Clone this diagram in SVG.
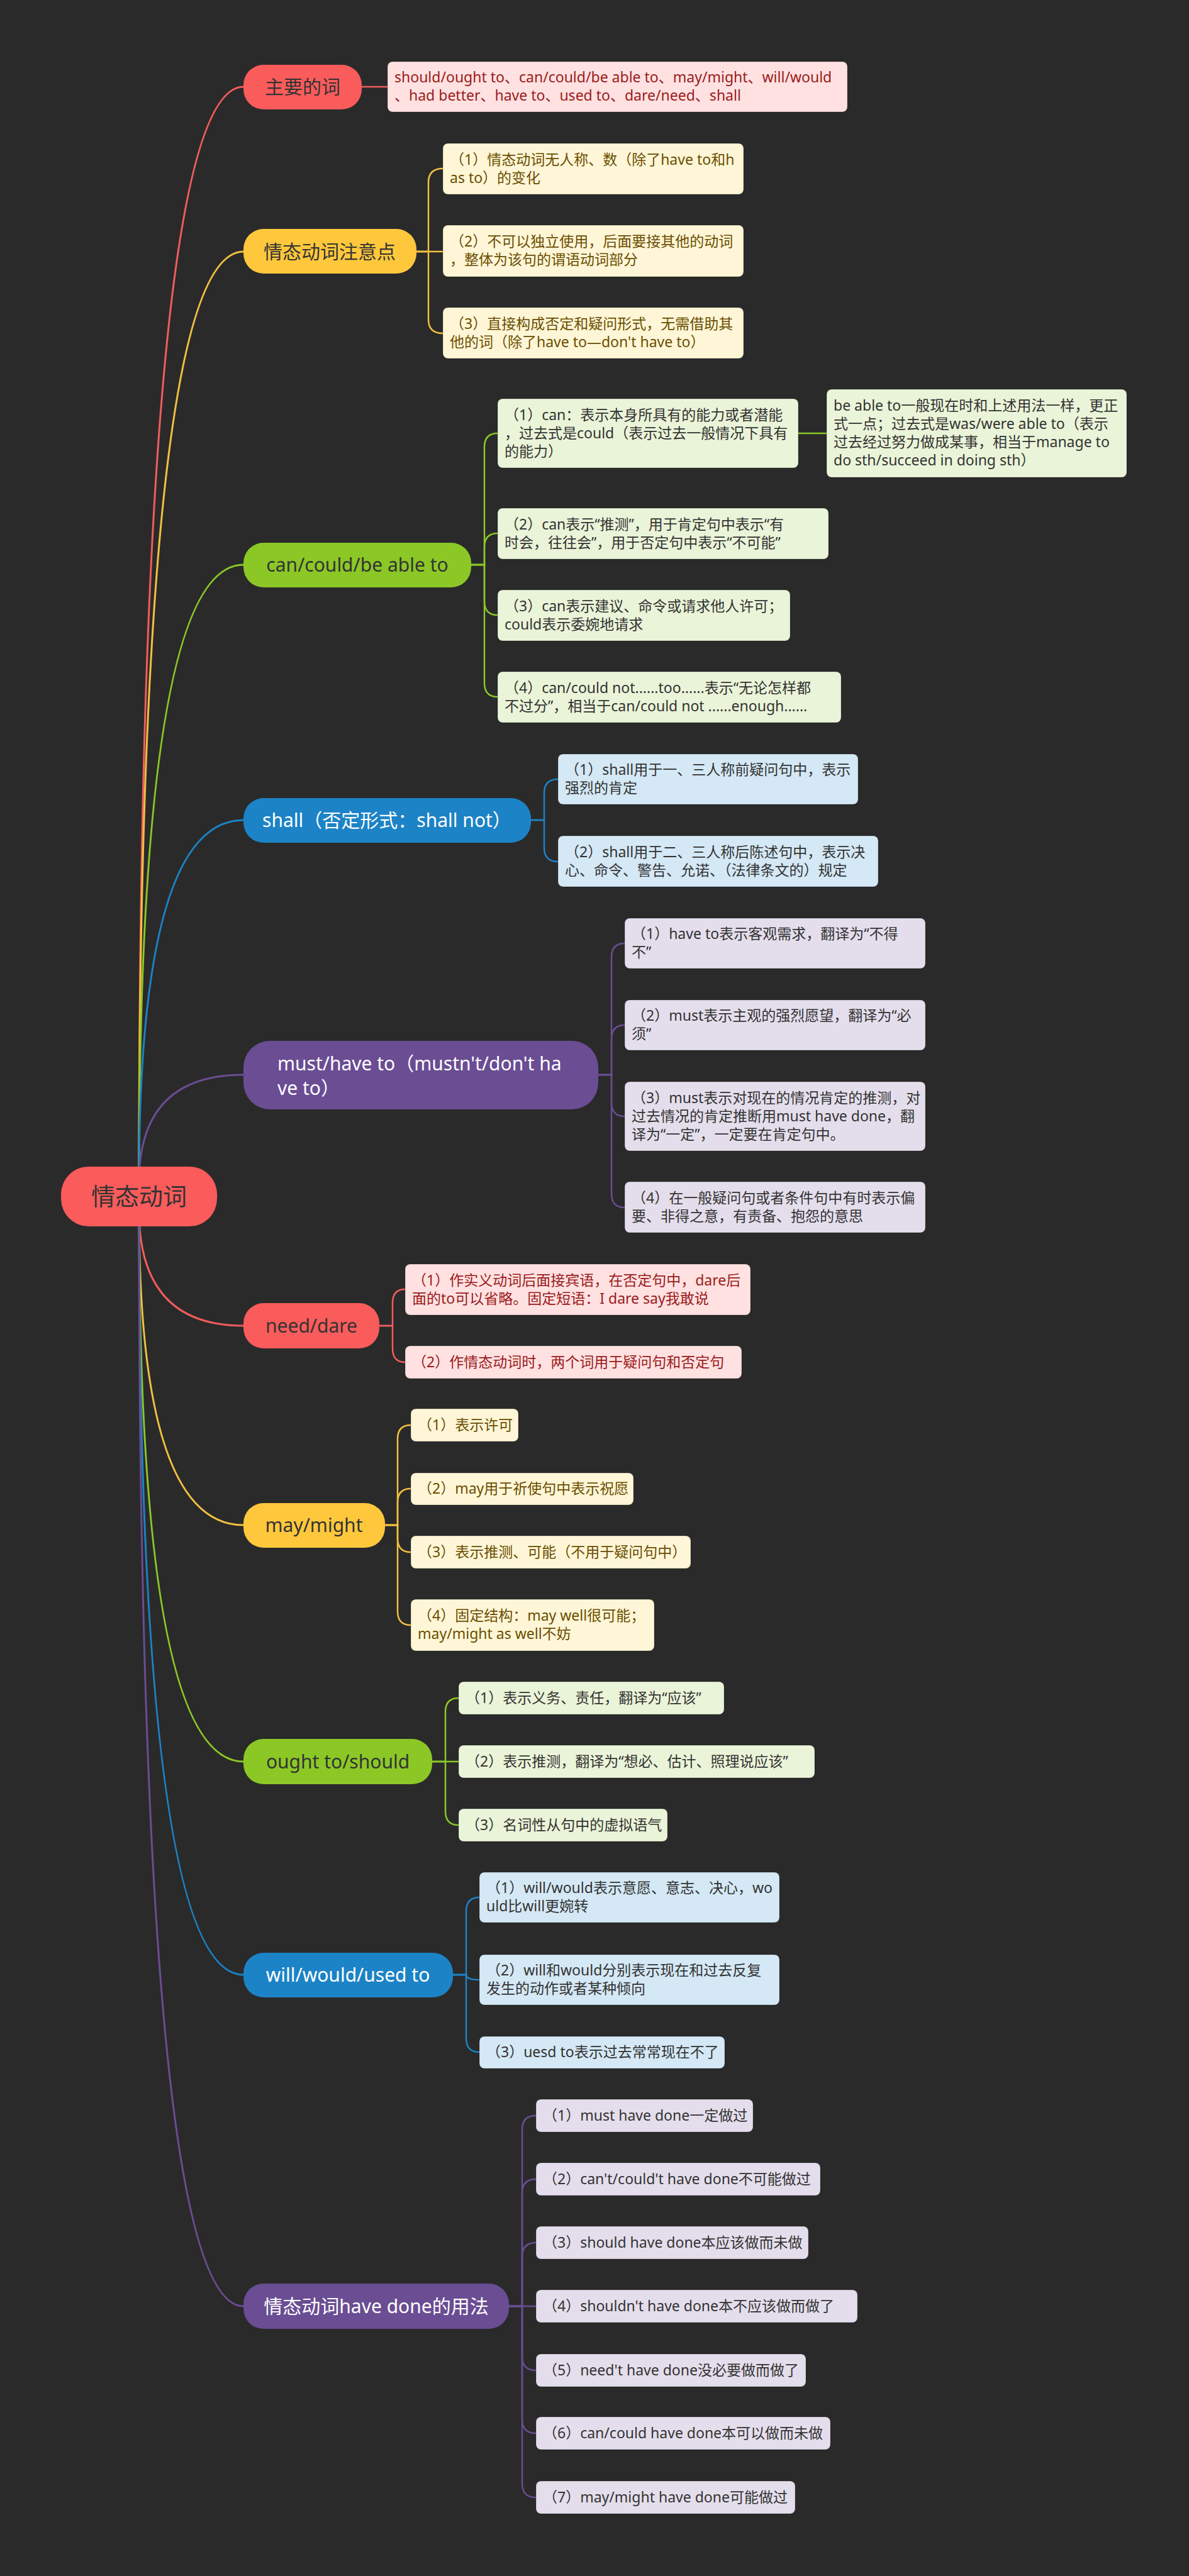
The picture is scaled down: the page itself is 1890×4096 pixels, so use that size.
<svg xmlns="http://www.w3.org/2000/svg" width="1890" height="4096" viewBox="0 0 1890 4096">
<style>
text{font-family:"Noto Sans","Noto Sans CJK SC",sans-serif}
.lt{font-size:23px}
.nt{font-size:30px}
.c{fill:none;stroke-width:3;stroke-linecap:round}
.cl{fill:none;stroke-width:2.5}
.red .n{fill:#FA5B5B}.red .lf{fill:#FFE1E1}.red .lt{fill:#9B1B1B}.red .nt{fill:#333}
.yel .n{fill:#FFC83C}.yel .lf{fill:#FEF6D7}.yel .lt{fill:#6B4E00}.yel .nt{fill:#333}
.grn .n{fill:#8BC826}.grn .lf{fill:#EAF4D8}.grn .lt{fill:#333}.grn .nt{fill:#333}
.blu .n{fill:#1C83C6}.blu .lf{fill:#D4E8F5}.blu .lt{fill:#333}.blu .nt{fill:#fff}
.pur .n{fill:#6A4D93}.pur .lf{fill:#E4DEEC}.pur .lt{fill:#333}.pur .nt{fill:#fff}
.lf{stroke:rgba(0,0,0,0.25);stroke-width:1}
.sr{stroke:#F25C5C}.sy{stroke:#F2C040}.sg{stroke:#8BC826}.sb{stroke:#1C83C6}.sp{stroke:#6A4D93}
</style>
<rect x="0" y="0" width="1890" height="4096" fill="#2A2A2A"/>
<g id="connectors">
<path class="c sr" d="M221 1880 Q221 138 387 138"/>
<path class="c sy" d="M221 1880 Q221 400 387 400"/>
<path class="c sg" d="M221 1880 Q221 898 387 898"/>
<path class="c sb" d="M221 1880 Q221 1304 387 1304"/>
<path class="c sp" d="M221 1880 Q221 1709 387 1709"/>
<path class="c sr" d="M221 1925 Q221 2108 387 2108"/>
<path class="c sy" d="M221 1925 Q221 2425 387 2425"/>
<path class="c sg" d="M221 1925 Q221 2801 387 2801"/>
<path class="c sb" d="M221 1925 Q221 3140 387 3140"/>
<path class="c sp" d="M221 1925 Q221 3667 387 3667"/>
<path class="cl sr" d="M575 138 H616"/>
<path class="cl sy" d="M662 400 H681 V290 Q681 268 704 268"/>
<path class="cl sy" d="M662 400 H704"/>
<path class="cl sy" d="M662 400 H681 V508 Q681 530 704 530"/>
<path class="cl sg" d="M749 898 H770 V711 Q770 689 791 689"/>
<path class="cl sg" d="M749 898 H770 V870 Q770 848 791 848"/>
<path class="cl sg" d="M749 898 H770 V956 Q770 978 791 978"/>
<path class="cl sg" d="M749 898 H770 V1086 Q770 1108 791 1108"/>
<path class="cl sg" d="M1269 689 H1314"/>
<path class="cl sb" d="M844 1304 H865 V1261 Q865 1239 887 1239"/>
<path class="cl sb" d="M844 1304 H865 V1348 Q865 1370 887 1370"/>
<path class="cl sp" d="M951 1709 H972 V1522 Q972 1500 993 1500"/>
<path class="cl sp" d="M951 1709 H972 V1652 Q972 1630 993 1630"/>
<path class="cl sp" d="M951 1709 H972 V1753 Q972 1775 993 1775"/>
<path class="cl sp" d="M951 1709 H972 V1898 Q972 1920 993 1920"/>
<path class="cl sr" d="M603 2108 H624 V2072 Q624 2050 644 2050"/>
<path class="cl sr" d="M603 2108 H624 V2144 Q624 2166 644 2166"/>
<path class="cl sy" d="M612 2425 H632 V2288 Q632 2266 653 2266"/>
<path class="cl sy" d="M612 2425 H632 V2389 Q632 2367 653 2367"/>
<path class="cl sy" d="M612 2425 H632 V2446 Q632 2468 653 2468"/>
<path class="cl sy" d="M612 2425 H632 V2562 Q632 2584 653 2584"/>
<path class="cl sg" d="M687 2801 H708 V2722 Q708 2700 729 2700"/>
<path class="cl sg" d="M687 2801 H729"/>
<path class="cl sg" d="M687 2801 H708 V2880 Q708 2902 729 2902"/>
<path class="cl sb" d="M720 3140 H741 V3039 Q741 3017 762 3017"/>
<path class="cl sb" d="M720 3140 H741 Q741 3148 762 3148"/>
<path class="cl sb" d="M720 3140 H741 V3241 Q741 3263 762 3263"/>
<path class="cl sp" d="M809 3667 H830 V3386 Q830 3364 852 3364"/>
<path class="cl sp" d="M809 3667 H830 V3487 Q830 3465 852 3465"/>
<path class="cl sp" d="M809 3667 H830 V3588 Q830 3566 852 3566"/>
<path class="cl sp" d="M809 3667 H852"/>
<path class="cl sp" d="M809 3667 H830 V3747 Q830 3769 852 3769"/>
<path class="cl sp" d="M809 3667 H830 V3847 Q830 3869 852 3869"/>
<path class="cl sp" d="M809 3667 H830 V3949 Q830 3971 852 3971"/>
</g>
<g id="root" class="red">
<rect class="n" x="97" y="1855" width="248" height="95" rx="44"/>
<text x="221" y="1916" text-anchor="middle" style="font-size:38px;fill:#333">情态动词</text>
</g>
<g id="b1" class="red">
<rect class="n" x="387" y="103" width="188" height="71" rx="32"/>
<text class="nt" x="481" y="149" text-anchor="middle">主要的词</text>
<rect class="lf" x="616" y="98" width="731" height="80" rx="8"/>
<text class="lt" x="627" y="131">should/ought to、can/could/be able to、may/might、will/would</text>
<text class="lt" x="627" y="160">、had better、have to、used to、dare/need、shall</text>
</g>
<g id="b2" class="yel">
<rect class="n" x="387" y="364" width="275" height="71" rx="32"/>
<text class="nt" x="524" y="411" text-anchor="middle">情态动词注意点</text>
<rect class="lf" x="704" y="228" width="478" height="81" rx="8"/>
<text class="lt" x="715" y="262">（1）情态动词无人称、数（除了have to和h</text>
<text class="lt" x="715" y="291">as to）的变化</text>
<rect class="lf" x="704" y="358" width="478" height="82" rx="8"/>
<text class="lt" x="715" y="392">（2）不可以独立使用，后面要接其他的动词</text>
<text class="lt" x="715" y="421">，整体为该句的谓语动词部分</text>
<rect class="lf" x="704" y="489" width="478" height="81" rx="8"/>
<text class="lt" x="715" y="523">（3）直接构成否定和疑问形式，无需借助其</text>
<text class="lt" x="715" y="552">他的词（除了have to—don't have to）</text>
</g>
<g id="b3" class="grn">
<rect class="n" x="387" y="863" width="362" height="71" rx="32"/>
<text class="nt" x="568" y="909" text-anchor="middle">can/could/be able to</text>
<rect class="lf" x="791" y="634" width="478" height="110" rx="8"/>
<text class="lt" x="802" y="668">（1）can：表示本身所具有的能力或者潜能</text>
<text class="lt" x="802" y="697">，过去式是could（表示过去一般情况下具有</text>
<text class="lt" x="802" y="726">的能力）</text>
<rect class="lf" x="1314" y="619" width="477" height="140" rx="8"/>
<text class="lt" x="1325" y="653">be able to一般现在时和上述用法一样，更正</text>
<text class="lt" x="1325" y="682">式一点；过去式是was/were able to（表示</text>
<text class="lt" x="1325" y="711">过去经过努力做成某事，相当于manage to</text>
<text class="lt" x="1325" y="740">do sth/succeed in doing sth）</text>
<rect class="lf" x="791" y="808" width="526" height="81" rx="8"/>
<text class="lt" x="802" y="842">（2）can表示“推测”，用于肯定句中表示“有</text>
<text class="lt" x="802" y="871">时会，往往会”，用于否定句中表示“不可能”</text>
<rect class="lf" x="791" y="938" width="465" height="81" rx="8"/>
<text class="lt" x="802" y="972">（3）can表示建议、命令或请求他人许可；</text>
<text class="lt" x="802" y="1001">could表示委婉地请求</text>
<rect class="lf" x="791" y="1068" width="546" height="81" rx="8"/>
<text class="lt" x="802" y="1102">（4）can/could not......too......表示“无论怎样都</text>
<text class="lt" x="802" y="1131">不过分”，相当于can/could not ......enough......</text>
</g>
<g id="b4" class="blu">
<rect class="n" x="387" y="1269" width="457" height="71" rx="32"/>
<text class="nt" x="615" y="1315" text-anchor="middle">shall（否定形式：shall not）</text>
<rect class="lf" x="887" y="1199" width="477" height="80" rx="8"/>
<text class="lt" x="898" y="1232">（1）shall用于一、三人称前疑问句中，表示</text>
<text class="lt" x="898" y="1261">强烈的肯定</text>
<rect class="lf" x="887" y="1329" width="509" height="81" rx="8"/>
<text class="lt" x="898" y="1363">（2）shall用于二、三人称后陈述句中，表示决</text>
<text class="lt" x="898" y="1392">心、命令、警告、允诺、（法律条文的）规定</text>
</g>
<g id="b5" class="pur">
<rect class="n" x="387" y="1655" width="564" height="109" rx="42"/>
<text class="nt" x="441" y="1702">must/have to（mustn't/don't ha</text>
<text class="nt" x="441" y="1741">ve to）</text>
<rect class="lf" x="993" y="1460" width="478" height="80" rx="8"/>
<text class="lt" x="1004" y="1493">（1）have to表示客观需求，翻译为“不得</text>
<text class="lt" x="1004" y="1522">不”</text>
<rect class="lf" x="993" y="1590" width="478" height="80" rx="8"/>
<text class="lt" x="1004" y="1623">（2）must表示主观的强烈愿望，翻译为“必</text>
<text class="lt" x="1004" y="1652">须”</text>
<rect class="lf" x="993" y="1720" width="478" height="110" rx="8"/>
<text class="lt" x="1004" y="1754">（3）must表示对现在的情况肯定的推测，对</text>
<text class="lt" x="1004" y="1783">过去情况的肯定推断用must have done，翻</text>
<text class="lt" x="1004" y="1812">译为“一定”，一定要在肯定句中。</text>
<rect class="lf" x="993" y="1879" width="478" height="81" rx="8"/>
<text class="lt" x="1004" y="1913">（4）在一般疑问句或者条件句中有时表示偏</text>
<text class="lt" x="1004" y="1942">要、非得之意，有责备、抱怨的意思</text>
</g>
<g id="b6" class="red">
<rect class="n" x="387" y="2072" width="216" height="72" rx="32"/>
<text class="nt" x="495" y="2119" text-anchor="middle">need/dare</text>
<rect class="lf" x="644" y="2010" width="549" height="81" rx="8"/>
<text class="lt" x="655" y="2044">（1）作实义动词后面接宾语，在否定句中，dare后</text>
<text class="lt" x="655" y="2073">面的to可以省略。固定短语：I dare say我敢说</text>
<rect class="lf" x="644" y="2140" width="535" height="52" rx="8"/>
<text class="lt" x="655" y="2174">（2）作情态动词时，两个词用于疑问句和否定句</text>
</g>
<g id="b7" class="yel">
<rect class="n" x="387" y="2390" width="225" height="71" rx="32"/>
<text class="nt" x="499" y="2436" text-anchor="middle">may/might</text>
<rect class="lf" x="653" y="2240" width="171" height="52" rx="8"/>
<text class="lt" x="664" y="2274">（1）表示许可</text>
<rect class="lf" x="653" y="2342" width="354" height="51" rx="8"/>
<text class="lt" x="664" y="2375">（2）may用于祈使句中表示祝愿</text>
<rect class="lf" x="653" y="2442" width="445" height="52" rx="8"/>
<text class="lt" x="664" y="2476">（3）表示推测、可能（不用于疑问句中）</text>
<rect class="lf" x="653" y="2543" width="387" height="82" rx="8"/>
<text class="lt" x="664" y="2577">（4）固定结构：may well很可能；</text>
<text class="lt" x="664" y="2606">may/might as well不妨</text>
</g>
<g id="b8" class="grn">
<rect class="n" x="387" y="2765" width="300" height="72" rx="32"/>
<text class="nt" x="537" y="2812" text-anchor="middle">ought to/should</text>
<rect class="lf" x="729" y="2674" width="422" height="52" rx="8"/>
<text class="lt" x="740" y="2708">（1）表示义务、责任，翻译为“应该”</text>
<rect class="lf" x="729" y="2775" width="566" height="52" rx="8"/>
<text class="lt" x="740" y="2809">（2）表示推测，翻译为“想必、估计、照理说应该”</text>
<rect class="lf" x="729" y="2876" width="332" height="52" rx="8"/>
<text class="lt" x="740" y="2910">（3）名词性从句中的虚拟语气</text>
</g>
<g id="b9" class="blu">
<rect class="n" x="387" y="3105" width="333" height="71" rx="32"/>
<text class="nt" x="553" y="3151" text-anchor="middle">will/would/used to</text>
<rect class="lf" x="762" y="2977" width="477" height="80" rx="8"/>
<text class="lt" x="773" y="3010">（1）will/would表示意愿、意志、决心，wo</text>
<text class="lt" x="773" y="3039">uld比will更婉转</text>
<rect class="lf" x="762" y="3108" width="477" height="80" rx="8"/>
<text class="lt" x="773" y="3141">（2）will和would分别表示现在和过去反复</text>
<text class="lt" x="773" y="3170">发生的动作或者某种倾向</text>
<rect class="lf" x="762" y="3238" width="390" height="51" rx="8"/>
<text class="lt" x="773" y="3271">（3）uesd to表示过去常常现在不了</text>
</g>
<g id="b10" class="pur">
<rect class="n" x="387" y="3631" width="422" height="72" rx="32"/>
<text class="nt" x="598" y="3678" text-anchor="middle">情态动词have done的用法</text>
<rect class="lf" x="852" y="3338" width="345" height="52" rx="8"/>
<text class="lt" x="863" y="3372">（1）must have done一定做过</text>
<rect class="lf" x="852" y="3439" width="452" height="52" rx="8"/>
<text class="lt" x="863" y="3473">（2）can't/could't have done不可能做过</text>
<rect class="lf" x="852" y="3540" width="433" height="52" rx="8"/>
<text class="lt" x="863" y="3574">（3）should have done本应该做而未做</text>
<rect class="lf" x="852" y="3641" width="511" height="52" rx="8"/>
<text class="lt" x="863" y="3675">（4）shouldn't have done本不应该做而做了</text>
<rect class="lf" x="852" y="3743" width="429" height="52" rx="8"/>
<text class="lt" x="863" y="3777">（5）need't have done没必要做而做了</text>
<rect class="lf" x="852" y="3843" width="468" height="52" rx="8"/>
<text class="lt" x="863" y="3877">（6）can/could have done本可以做而未做</text>
<rect class="lf" x="852" y="3945" width="412" height="52" rx="8"/>
<text class="lt" x="863" y="3979">（7）may/might have done可能做过</text>
</g>
</svg>
